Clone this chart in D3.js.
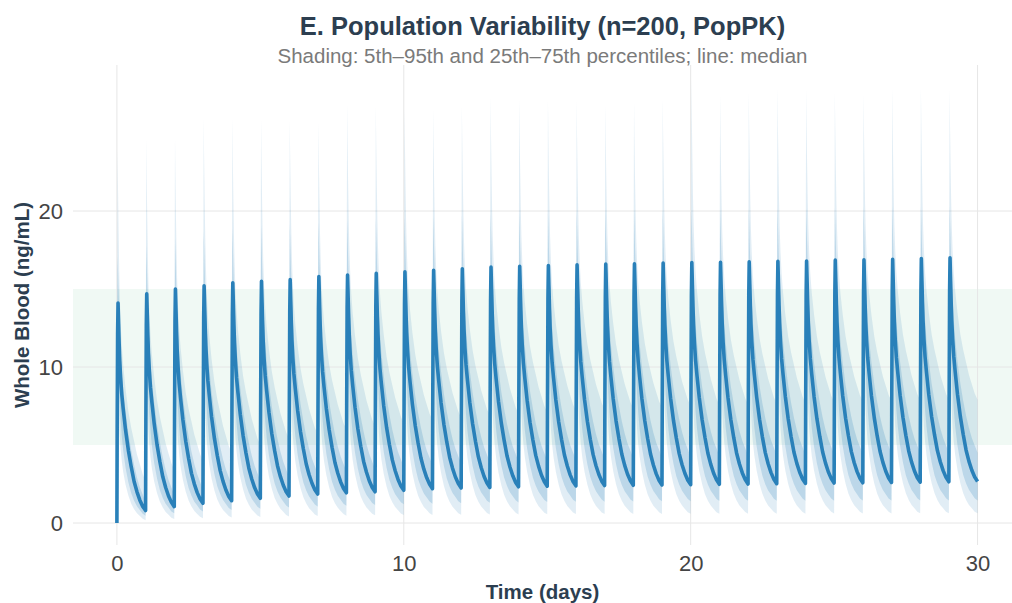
<!DOCTYPE html>
<html>
<head>
<meta charset="utf-8">
<script src="https://cdn.jsdelivr.net/npm/d3@7"></script>
<style>
  body { margin: 0; background: #fff; }
  svg { display: block; font-family: "Liberation Sans", Arial, sans-serif; }
</style>
</head>
<body>
<div id="chart-area"></div>
<script>
// dose days (one dose per day)
var doseDays = [0,1,2,3,4,5,6,7,8,9,10,11,12,13,14,15,16,17,18,19,20,21,22,23,24,25,26,27,28,29];

// peak value after each dose, per percentile (ng/mL)
var peakP5  = [9.0,9.5,9.8,10.0,10.2,10.3,10.4,10.5,10.6,10.7,10.8,10.8,10.9,10.9,11.0,11.0,11.0,11.1,11.1,11.1,11.1,11.2,11.2,11.2,11.2,11.2,11.3,11.3,11.3,11.3];
var peakP25 = [12.4,13.0,13.3,13.5,13.7,13.8,13.9,14.0,14.1,14.2,14.3,14.4,14.4,14.5,14.5,14.6,14.6,14.6,14.7,14.7,14.7,14.8,14.8,14.8,14.8,14.9,14.9,14.9,14.9,15.0];
var peakP50 = [14.1,14.7,15.0,15.2,15.4,15.5,15.6,15.8,15.9,16.0,16.1,16.2,16.3,16.4,16.45,16.5,16.55,16.6,16.62,16.66,16.7,16.72,16.75,16.78,16.8,16.85,16.87,16.9,16.95,17.0];
var peakP75 = [17.1,17.8,18.3,18.7,18.9,19.1,19.2,19.3,19.4,19.5,19.6,19.7,19.8,19.85,19.9,19.9,20.0,20.0,20.05,20.1,20.1,20.15,20.2,20.2,20.2,20.25,20.3,20.3,20.3,20.35];
var peakP95 = [23.9,24.6,24.7,26.0,26.0,25.9,25.8,25.7,26.9,26.7,26.6,26.5,26.7,27.3,27.2,27.1,27.1,26.8,27.0,27.2,28.5,27.4,27.6,27.9,27.8,27.6,27.5,27.9,27.9,27.8];

// value at the end of each dosing interval (trough before next dose)
var troughP5  = [0.18,0.25,0.30,0.35,0.38,0.42,0.45,0.47,0.49,0.51,0.52,0.53,0.54,0.55,0.56,0.57,0.57,0.58,0.58,0.59,0.59,0.60,0.60,0.60,0.61,0.61,0.61,0.62,0.62,0.62];
var troughP25 = [0.47,0.62,0.74,0.84,0.92,1.00,1.06,1.10,1.15,1.20,1.24,1.27,1.30,1.32,1.34,1.36,1.37,1.38,1.39,1.40,1.41,1.42,1.42,1.43,1.43,1.44,1.44,1.45,1.45,1.45];
var troughP50 = [0.80,1.05,1.26,1.43,1.58,1.73,1.86,1.94,2.00,2.10,2.20,2.25,2.28,2.32,2.36,2.38,2.40,2.42,2.44,2.46,2.48,2.50,2.52,2.54,2.56,2.58,2.60,2.62,2.64,2.66];
var troughP75 = [1.35,1.80,2.15,2.45,2.70,2.95,3.15,3.30,3.45,3.60,3.70,3.80,3.90,3.95,4.00,4.05,4.10,4.15,4.20,4.25,4.30,4.32,4.35,4.38,4.40,4.42,4.45,4.47,4.50,4.50];
var troughP95 = [2.70,3.40,4.00,4.50,5.00,5.40,5.70,6.00,6.20,6.40,6.60,6.75,6.90,7.00,7.10,7.20,7.30,7.35,7.40,7.50,7.55,7.60,7.65,7.70,7.75,7.80,7.82,7.85,7.88,7.90];

// shape of one dosing interval: time after dose (days) and fraction between trough and peak
var shapeTimes = [0.01,0.025,0.04,0.06,0.08,0.10,0.13,0.17,0.22,0.30,0.40,0.50,0.60,0.70,0.80,0.90,1.00];
var shapeLow   = [0.40,0.85,1.00,0.85,0.72,0.62,0.52,0.43,0.35,0.26,0.18,0.12,0.08,0.05,0.03,0.01,0];
var shapeMid   = [0.40,0.85,1.00,0.90,0.80,0.72,0.64,0.56,0.49,0.39,0.29,0.21,0.14,0.09,0.05,0.02,0];
var shapeHigh  = [0.50,1.00,0.94,0.85,0.77,0.70,0.62,0.54,0.46,0.37,0.28,0.21,0.15,0.10,0.06,0.03,0];
var shapeTop   = [0.50,1.00,0.88,0.75,0.64,0.56,0.48,0.41,0.35,0.28,0.21,0.16,0.12,0.08,0.05,0.02,0];

var xTicks = [0, 10, 20, 30];
var yTicks = [0, 10, 20];
var targetRange = [5, 15];

var width = 1012, height = 603;
var margin = {top: 65, right: 0, bottom: 58, left: 73};
var innerW = width - margin.left - margin.right,
    innerH = height - margin.top - margin.bottom;

var x = d3.scaleLinear().domain([-1.53, 31.2]).range([0, innerW]);
var y = d3.scaleLinear().domain([-1.41, 29.36]).range([innerH, 0]);

// build the concentration-time series of one percentile
function buildSeries(peaks, troughs, shape) {
    var pts = [{t: 0, v: 0}];
    doseDays.forEach(function(day, k) {
        shapeTimes.forEach(function(o, i) {
            pts.push({t: day + o, v: troughs[k] + shape[i] * (peaks[k] - troughs[k])});
        });
    });
    return pts;
}

var p5  = buildSeries(peakP5,  troughP5,  shapeLow),
    p25 = buildSeries(peakP25, troughP25, shapeLow),
    p50 = buildSeries(peakP50, troughP50, shapeMid),
    p75 = buildSeries(peakP75, troughP75, shapeHigh),
    p95 = buildSeries(peakP95, troughP95, shapeTop);

var svg = d3.select("#chart-area").append("svg")
    .attr("width", width)
    .attr("height", height);

var g = svg.append("g")
    .attr("transform", "translate(" + margin.left + "," + margin.top + ")");

// target range shading
g.append("rect")
    .attr("x", 0)
    .attr("width", innerW)
    .attr("y", y(targetRange[1]))
    .attr("height", y(targetRange[0]) - y(targetRange[1]))
    .attr("fill", "rgba(39,174,96,0.07)");

// gridlines
g.selectAll(".ygrid").data(yTicks).enter().append("line")
    .attr("x1", 0).attr("x2", innerW)
    .attr("y1", function(d) { return y(d); })
    .attr("y2", function(d) { return y(d); })
    .attr("stroke", "#e6e6e6").attr("stroke-width", 1);

g.selectAll(".xgrid").data(xTicks).enter().append("line")
    .attr("y1", 0).attr("y2", innerH)
    .attr("x1", function(d) { return x(d); })
    .attr("x2", function(d) { return x(d); })
    .attr("stroke", "#e6e6e6").attr("stroke-width", 1);

// percentile bands
var band = function(lo, hi) {
    return d3.area()
        .x(function(d, i) { return x(lo[i].t); })
        .y0(function(d, i) { return y(lo[i].v); })
        .y1(function(d, i) { return y(hi[i].v); })(lo);
};

g.append("path")
    .attr("d", band(p5, p95))
    .attr("fill", "rgba(41,128,185,0.14)");

g.append("path")
    .attr("d", band(p25, p75))
    .attr("fill", "rgba(41,128,185,0.2)");

// median line
g.append("path")
    .datum(p50)
    .attr("fill", "none")
    .attr("stroke", "#2980b9")
    .attr("stroke-width", 3.6)
    .attr("stroke-linejoin", "round")
    .attr("d", d3.line()
        .x(function(d) { return x(d.t); })
        .y(function(d) { return y(d.v); }));

// axes
var xAxis = g.append("g")
    .attr("transform", "translate(0," + innerH + ")")
    .call(d3.axisBottom(x).tickValues(xTicks).tickSize(0).tickPadding(10));
xAxis.select(".domain").remove();
xAxis.selectAll("text")
    .attr("font-size", 22)
    .attr("font-family", "Liberation Sans, Arial, sans-serif")
    .attr("fill", "#444");

var yAxis = g.append("g")
    .call(d3.axisLeft(y).tickValues(yTicks).tickSize(0).tickPadding(10));
yAxis.select(".domain").remove();
yAxis.selectAll("text")
    .attr("font-size", 22)
    .attr("font-family", "Liberation Sans, Arial, sans-serif")
    .attr("fill", "#444");

// titles
svg.append("text")
    .attr("x", margin.left + innerW / 2)
    .attr("y", 35)
    .attr("text-anchor", "middle")
    .attr("font-size", 25.5)
    .attr("font-weight", "bold")
    .attr("fill", "#2c3e50")
    .text("E. Population Variability (n=200, PopPK)");

svg.append("text")
    .attr("x", margin.left + innerW / 2)
    .attr("y", 63)
    .attr("text-anchor", "middle")
    .attr("font-size", 20.5)
    .attr("fill", "#7a7a7a")
    .text("Shading: 5th\u201395th and 25th\u201375th percentiles; line: median");

svg.append("text")
    .attr("x", margin.left + innerW / 2)
    .attr("y", 599)
    .attr("text-anchor", "middle")
    .attr("font-size", 20.5)
    .attr("font-weight", "bold")
    .attr("fill", "#2c3e50")
    .text("Time (days)");

svg.append("text")
    .attr("transform", "translate(29," + (margin.top + innerH / 2) + ") rotate(-90)")
    .attr("text-anchor", "middle")
    .attr("font-size", 20.5)
    .attr("font-weight", "bold")
    .attr("fill", "#2c3e50")
    .text("Whole Blood (ng/mL)");
</script>
</body>
</html>
